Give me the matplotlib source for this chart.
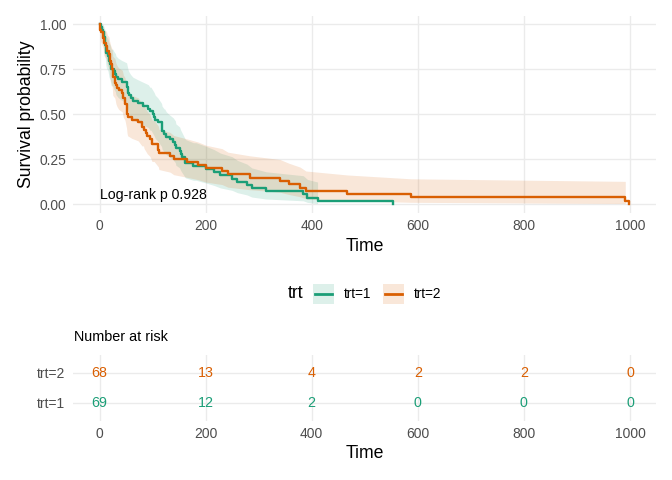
import numpy as np
import matplotlib
matplotlib.use("Agg")
import matplotlib.pyplot as plt
from matplotlib.patches import Rectangle
from matplotlib.lines import Line2D

plt.rcParams['font.family'] = ['Liberation Sans', 'DejaVu Sans']

# Veteran lung cancer data: survival time and status (1 = death, 0 = censored)
time_trt1 = [72, 411, 228, 126, 118, 10, 82, 110, 314, 100, 42, 8, 144, 25, 11, 30, 384, 4, 54, 13,
             123, 97, 153, 59, 117, 16, 151, 22, 56, 21, 18, 139, 20, 31, 52, 287, 18, 51, 122, 27,
             54, 7, 63, 392, 10, 8, 92, 35, 117, 132, 12, 162, 3, 95, 177, 162, 216, 553, 278, 12,
             260, 200, 156, 182, 143, 105, 103, 250, 100]
status_trt1 = [1, 1, 1, 1, 1, 1, 1, 1, 1, 0, 1, 1, 1, 0, 1, 1, 1, 1, 1, 1,
               0, 0, 1, 1, 1, 1, 1, 1, 1, 1, 1, 1, 1, 1, 1, 1, 1, 1, 1, 1,
               1, 1, 1, 1, 1, 1, 1, 1, 1, 1, 1, 1, 1, 1, 1, 1, 1, 1, 1, 1,
               1, 1, 1, 0, 1, 1, 1, 1, 1]
time_trt2 = [999, 112, 87, 231, 242, 991, 111, 1, 587, 389, 33, 25, 357, 467, 201, 1, 30, 44, 283, 15,
             25, 103, 21, 13, 87, 2, 20, 7, 24, 99, 8, 99, 61, 25, 95, 80, 51, 29, 24, 18,
             83, 31, 51, 90, 52, 73, 8, 36, 48, 7, 140, 186, 84, 19, 45, 80, 52, 164, 19, 53,
             15, 43, 340, 133, 111, 231, 378, 49]
status_trt2 = [1, 1, 0, 0, 1, 1, 1, 1, 1, 1, 1, 1, 1, 1, 1, 1, 1, 1, 1, 1,
               1, 0, 1, 1, 1, 1, 1, 1, 1, 1, 1, 1, 1, 1, 1, 1, 1, 1, 1, 1,
               0, 1, 1, 1, 1, 1, 1, 1, 1, 1, 1, 1, 1, 1, 1, 1, 1, 1, 1, 1,
               1, 1, 1, 1, 1, 1, 1, 1]

groups = ["trt=1", "trt=2"]
colors = ["#1B9E77", "#D95F02"]

risk_times = [0, 200, 400, 600, 800, 1000]
risk_trt1 = [69, 12, 2, 0, 0, 0]
risk_trt2 = [68, 13, 4, 2, 2, 0]

x_ticks = [0, 200, 400, 600, 800, 1000]
y_ticks = [0.0, 0.25, 0.5, 0.75, 1.0]
y_ticklabels = ["0.00", "0.25", "0.50", "0.75", "1.00"]
pval_text = "Log-rank p 0.928"


def kaplan_meier(times, status):
    """Product-limit estimate with log-transformed Greenwood CI at every observed time."""
    t = np.asarray(times)
    s = np.asarray(status)
    uniq = np.unique(t)
    S, v = 1.0, 0.0
    xs, ys, lo, hi = [0.0], [1.0], [1.0], [1.0]
    for u in uniq:
        n = (t >= u).sum()
        d = ((t == u) & (s == 1)).sum()
        if d > 0:
            S *= 1 - d / n
            if n > d:
                v += d / (n * (n - d))
            else:
                v = np.inf
        if np.isfinite(v) and S > 0:
            se = np.sqrt(v)
            lower = S * np.exp(-1.96 * se)
            upper = min(1.0, S * np.exp(1.96 * se))
        else:
            lower = upper = np.nan
        xs.append(u); ys.append(S); lo.append(lower); hi.append(upper)
    return np.array(xs, float), np.array(ys), np.array(lo), np.array(hi)


W, H = 672, 480
fig = plt.figure(figsize=(W / 100, H / 100), dpi=100)

grid_c = "#EBEBEB"
tick_c = "#4D4D4D"

# main panel
ax = fig.add_axes([73 / W, 1 - 213 / H, (656 - 73) / W, (213 - 15.5) / H])
xmax = 999
ax.set_xlim(-0.05 * xmax, 1.05 * xmax)
ax.set_ylim(-0.05, 1.05)

curves = [kaplan_meier(t, s) for t, s in [(time_trt1, status_trt1), (time_trt2, status_trt2)]]
for (xs, ys, lo, hi), col in zip(curves, colors):
    ax.fill_between(xs, lo, hi, color=col, alpha=0.15, lw=0, zorder=2)
for (xs, ys, lo, hi), col in zip(curves, colors):
    ax.step(xs, ys, where='post', color=col, lw=1.7, zorder=3)

ax.set_xticks(x_ticks)
ax.set_yticks(y_ticks)
ax.set_yticklabels(y_ticklabels)
ax.grid(True, color=grid_c, lw=1.0, zorder=0)
ax.set_axisbelow(True)
for sp in ax.spines.values():
    sp.set_visible(False)
ax.tick_params(axis='both', length=0, labelsize=9.9, labelcolor=tick_c)
ax.tick_params(axis='x', pad=4.0)
ax.tick_params(axis='y', pad=5.0)
ax.set_xlabel("Time", fontsize=12.7, labelpad=4)
ax.set_ylabel("Survival probability", fontsize=12.7, labelpad=3)
ax.text(0, 0.05, pval_text, fontsize=10.2, ha='left', va='center', zorder=4)

# legend
ly = 1 - 294 / H
fig.text(296 / W, ly, "trt", fontsize=12.7, ha='center', va='center')
for col, lab, bx in zip(colors, groups, [313, 383]):
    fig.add_artist(Rectangle((bx / W, 1 - 304 / H), 21 / W, 20 / H, transform=fig.transFigure,
                             facecolor=col, alpha=0.15, edgecolor='none'))
    fig.add_artist(Line2D([(bx + 2) / W, (bx + 19) / W], [ly, ly], transform=fig.transFigure,
                          color=col, lw=2.0))
    fig.text((bx + 31) / W, ly, lab, fontsize=9.8, ha='left', va='center')

# risk table
fig.text(74 / W, 1 - 337 / H, "Number at risk", fontsize=10.4, ha='left', va='center')
rax = fig.add_axes([73 / W, 1 - 421 / H, (656 - 73) / W, (421 - 355) / H])
rax.set_xlim(-0.05 * xmax, 1.05 * xmax)
rax.set_ylim(0.4, 2.6)
for yi, vals, col in zip([1, 2], [risk_trt1, risk_trt2], colors):
    for xt, v in zip(risk_times, vals):
        rax.text(xt, yi, str(v), color=col, fontsize=10.3, ha='center', va='center')
rax.set_yticks([1, 2])
rax.set_yticklabels(groups)
rax.set_xticks(x_ticks)
rax.grid(True, color=grid_c, lw=1.0, zorder=0)
for sp in rax.spines.values():
    sp.set_visible(False)
rax.tick_params(axis='both', length=0, labelsize=10.0, labelcolor=tick_c)
rax.tick_params(axis='x', pad=4.5)
rax.tick_params(axis='y', pad=5.5)
rax.set_xlabel("Time", fontsize=12.7, labelpad=3)

fig.savefig("out.png", dpi=100)
